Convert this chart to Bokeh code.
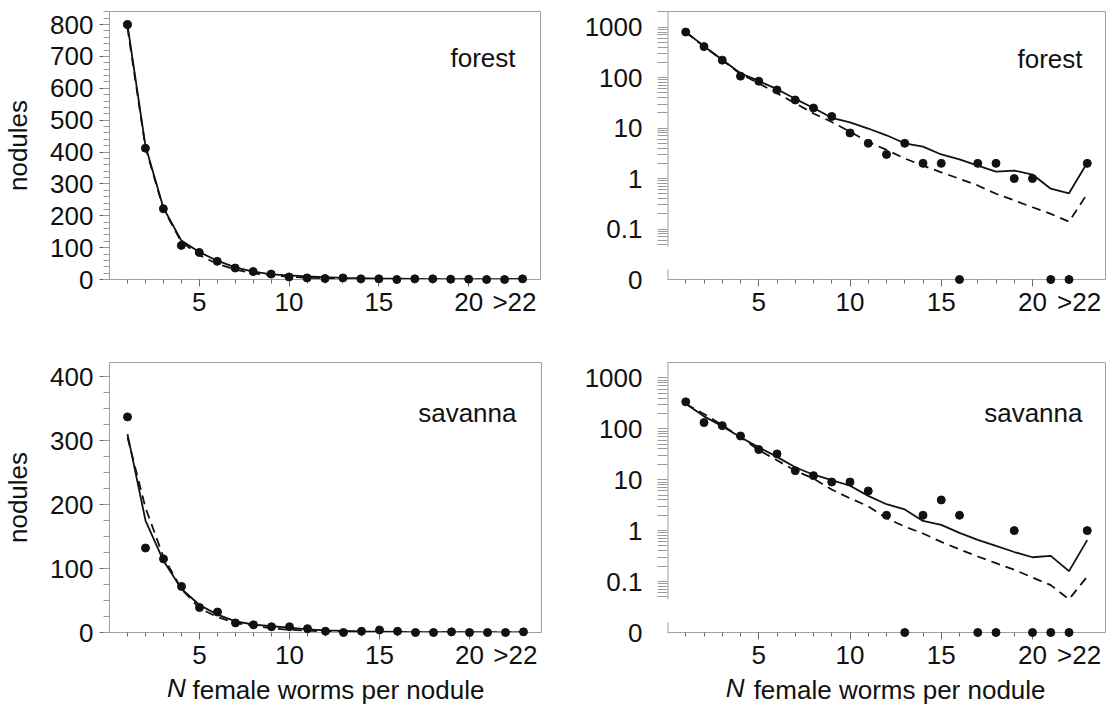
import math
from bokeh.plotting import figure
from bokeh.layouts import column, row
from bokeh.models import FixedTicker, LinearAxis, Label, Range1d
from bokeh.embed import file_html
from bokeh.resources import INLINE

# ---------------- data ----------------
x_vals = list(range(1, 24))            # 23 = ">22"
x_major_ticks = [5, 10, 15, 20]
x_minor_ticks = list(range(1, 23))
x_overflow_label = ">22"

forest_obs = [800, 412, 222, 107, 85, 57, 36, 25, 17, 8, 5, 3, 5, 2, 2, 0, 2, 2, 1, 1, 0, 0, 2]
forest_solid = [800, 420, 225, 122, 86, 59, 38, 25, 16, 13, 9.8, 7.2, 5.0, 4.3, 3.0, 2.4, 1.8,
                1.37, 1.44, 1.2, 0.63, 0.51, 2.05]
forest_dashed = [790, 415, 222, 118, 77, 49, 31, 19.5, 13.2, 8.5, 5.3, 3.7, 2.5, 1.8, 1.33, 0.99,
                 0.73, 0.5, 0.37, 0.27, 0.2, 0.14, 0.5]

savanna_obs = [337, 132, 115, 72, 39, 32, 15, 12, 9, 9, 6, 2, 0, 2, 4, 2, 0, 0, 1, 0, 0, 0, 1]
savanna_solid = [310, 175, 112, 68, 43, 28, 17.5, 12.5, 9.8, 7.6, 4.8, 3.3, 2.6, 1.55, 1.3, 0.9,
                 0.66, 0.5, 0.38, 0.3, 0.32, 0.16, 0.65]
savanna_dashed = [305, 195, 118, 68, 38, 24, 15, 10.5, 6.4, 4.3, 3.0, 1.75, 1.2, 0.88, 0.6, 0.43,
                  0.31, 0.23, 0.17, 0.12, 0.085, 0.045, 0.125]

forest_lin_ticks = list(range(0, 801, 100))
forest_lin_minor = list(range(0, 841, 20))
savanna_lin_ticks = list(range(0, 401, 100))
savanna_lin_minor = list(range(0, 421, 25))

log_tick_values = [0, 0.1, 1, 10, 100, 1000]
log_tick_labels = ["0", "0.1", "1", "10", "100", "1000"]

panel_names = ["forest", "savanna"]
y_label = "nodules"
x_label_italic = "N"
x_label_rest = "female worms per nodule"

# ---------------- style ----------------
FONT = "Liberation Sans"
AX = "#a0a0a0"
TICK = "#6a6a6a"
INK = "#111111"
TICK_FS = "26px"
LABEL_FS = "26px"
PX_PER_X = 18.1          # approx. screen px per x unit (for label placement)
OVERFLOW_SHIFT = 27      # pulls ">22" up into the tick-label row
XLABEL_SHIFT = 31        # pulls the upright part of the x title into the italic "N" row

ZERO_POS = -2.0          # where zero sits on the broken log axis
LOG_LOW = math.log10(0.045)


def to_log(v):
    return math.log10(v) if v > 0 else ZERO_POS


def text_axis(p, ticks, labels, standoff, style="normal"):
    """A 'below' axis that only carries text labels (no line, no tick marks)."""
    ax = LinearAxis(ticker=FixedTicker(ticks=ticks, minor_ticks=[]),
                    major_label_overrides={t: s for t, s in zip(ticks, labels)},
                    axis_line_color=None,
                    major_tick_line_color=None, minor_tick_line_color=None,
                    major_tick_out=0, major_tick_in=0, minor_tick_out=0, minor_tick_in=0,
                    major_label_standoff=standoff, major_label_text_font=FONT,
                    major_label_text_font_size=TICK_FS, major_label_text_color=INK,
                    major_label_text_font_style=style)
    p.add_layout(ax, "below")
    return ax


def base_fig(w, h, bl, br, bt, bb, yr):
    p = figure(width=w, height=h, x_range=Range1d(0, 24), y_range=Range1d(*yr),
               output_backend="svg", toolbar_location=None,
               min_border_left=bl, min_border_right=br, min_border_top=bt, min_border_bottom=bb)
    p.xgrid.visible = False
    p.ygrid.visible = False
    p.background_fill_color = "white"
    p.border_fill_color = "white"
    xa = p.xaxis[0]
    xa.ticker = FixedTicker(ticks=x_major_ticks, minor_ticks=x_minor_ticks)
    xa.axis_line_color = AX
    xa.major_tick_line_color = TICK
    xa.minor_tick_line_color = TICK
    xa.major_tick_out = 7
    xa.major_tick_in = 0
    xa.minor_tick_out = 4
    xa.minor_tick_in = 0
    xa.major_label_standoff = 6
    xa.major_label_text_font = FONT
    xa.major_label_text_font_size = TICK_FS
    xa.major_label_text_color = INK
    # overflow category ">22": own label-only axis pulled up into the tick-label row
    text_axis(p, [x_vals[-1] - 0.45], [x_overflow_label], -OVERFLOW_SHIFT)
    ya = p.yaxis[0]
    ya.major_label_text_font = FONT
    ya.major_label_text_font_size = TICK_FS
    ya.major_label_text_color = INK
    ya.major_tick_in = 0
    ya.minor_tick_in = 0
    return p


def add_name(p, name, dx, dy):
    p.add_layout(Label(x=p.x_range.end, y=p.y_range.end, x_offset=-dx, y_offset=-dy,
                       text=name, text_align="right", text_baseline="middle",
                       text_font=FONT, text_font_size=LABEL_FS, text_color=INK))


def add_xlabel(p):
    xc = (p.x_range.start + p.x_range.end) / 2
    text_axis(p, [xc - 150 / PX_PER_X], [x_label_italic], 0, style="italic")
    text_axis(p, [xc + 13 / PX_PER_X], [x_label_rest], -XLABEL_SHIFT)


def linear_panel(w, h, bl, br, bt, bb, ytop, ticks, minor, obs, solid, dashed, name, dy):
    p = base_fig(w, h, bl, br, bt, bb, (0, ytop))
    p.outline_line_color = AX
    ya = p.yaxis[0]
    ya.ticker = FixedTicker(ticks=ticks, minor_ticks=minor)
    ya.axis_line_color = AX
    ya.major_tick_line_color = TICK
    ya.minor_tick_line_color = "#9a9a9a"
    ya.major_tick_out = 10
    ya.minor_tick_out = 6
    ya.major_label_standoff = 6
    ya.axis_label = y_label
    ya.axis_label_text_font = FONT
    ya.axis_label_text_font_size = LABEL_FS
    ya.axis_label_text_font_style = "normal"
    ya.axis_label_text_color = INK
    ya.axis_label_standoff = 14
    p.line(x_vals, dashed, line_color=INK, line_width=1.8, line_dash="9 6")
    p.line(x_vals, solid, line_color=INK, line_width=1.8)
    p.scatter(x_vals, obs, size=8, color=INK, level="overlay")
    add_name(p, name, 25, dy)
    return p


def log_panel(w, h, bl, br, bt, bb, ytop, obs, solid, dashed, name, dy):
    p = base_fig(w, h, bl, br, bt, bb, (ZERO_POS, ytop))
    p.outline_line_color = None
    ya = p.yaxis[0]
    major = [to_log(v) for v in log_tick_values]
    minor = []
    for d in range(-2, 4):
        for k in range(1, 10):
            t = math.log10(k * 10 ** d)
            if LOG_LOW <= t <= ytop:
                minor.append(t)
    ya.ticker = FixedTicker(ticks=major, minor_ticks=minor)
    ya.major_label_overrides = {m: lab for m, lab in zip(major, log_tick_labels)}
    ya.axis_line_color = None
    ya.major_tick_line_color = None
    ya.minor_tick_line_color = "#9a9a9a"
    ya.major_tick_out = 10
    ya.minor_tick_out = 10
    ya.major_label_standoff = 15
    # frame: top and right borders
    for side in ("above", "right"):
        ax = LinearAxis(ticker=FixedTicker(ticks=[]), axis_line_color=AX,
                        major_tick_out=0, minor_tick_out=0, major_tick_in=0, minor_tick_in=0,
                        major_label_standoff=0)
        p.add_layout(ax, side)
    # broken left spine
    xs = p.x_range.start
    p.segment(x0=[xs, xs], y0=[LOG_LOW, ZERO_POS], x1=[xs, xs], y1=[ytop, ZERO_POS + 0.2],
              line_color=AX, line_width=2)
    p.line(x_vals, [to_log(v) for v in dashed], line_color=INK, line_width=1.8, line_dash="9 6")
    p.line(x_vals, [to_log(v) for v in solid], line_color=INK, line_width=1.8)
    p.scatter(x_vals, [to_log(v) for v in obs], size=8, color=INK, level="overlay")
    add_name(p, name, 23, dy)
    return p


tl = linear_panel(553, 330, 106, 13, 11, 51, 841, forest_lin_ticks, forest_lin_minor,
                  forest_obs, forest_solid, forest_dashed, panel_names[0], 46)
tr = log_panel(554, 330, 114, 2, 8, 51, 3.31, forest_obs, forest_solid, forest_dashed,
               panel_names[0], 47)
bl = linear_panel(553, 380, 106, 12, 32, 78, 422, savanna_lin_ticks, savanna_lin_minor,
                  savanna_obs, savanna_solid, savanna_dashed, panel_names[1], 50)
br = log_panel(554, 380, 114, 2, 32, 77, 3.30, savanna_obs, savanna_solid, savanna_dashed,
               panel_names[1], 50)
add_xlabel(bl)
add_xlabel(br)

layout = column(row(tl, tr), row(bl, br))
open("out.html", "w").write(file_html(layout, INLINE))
